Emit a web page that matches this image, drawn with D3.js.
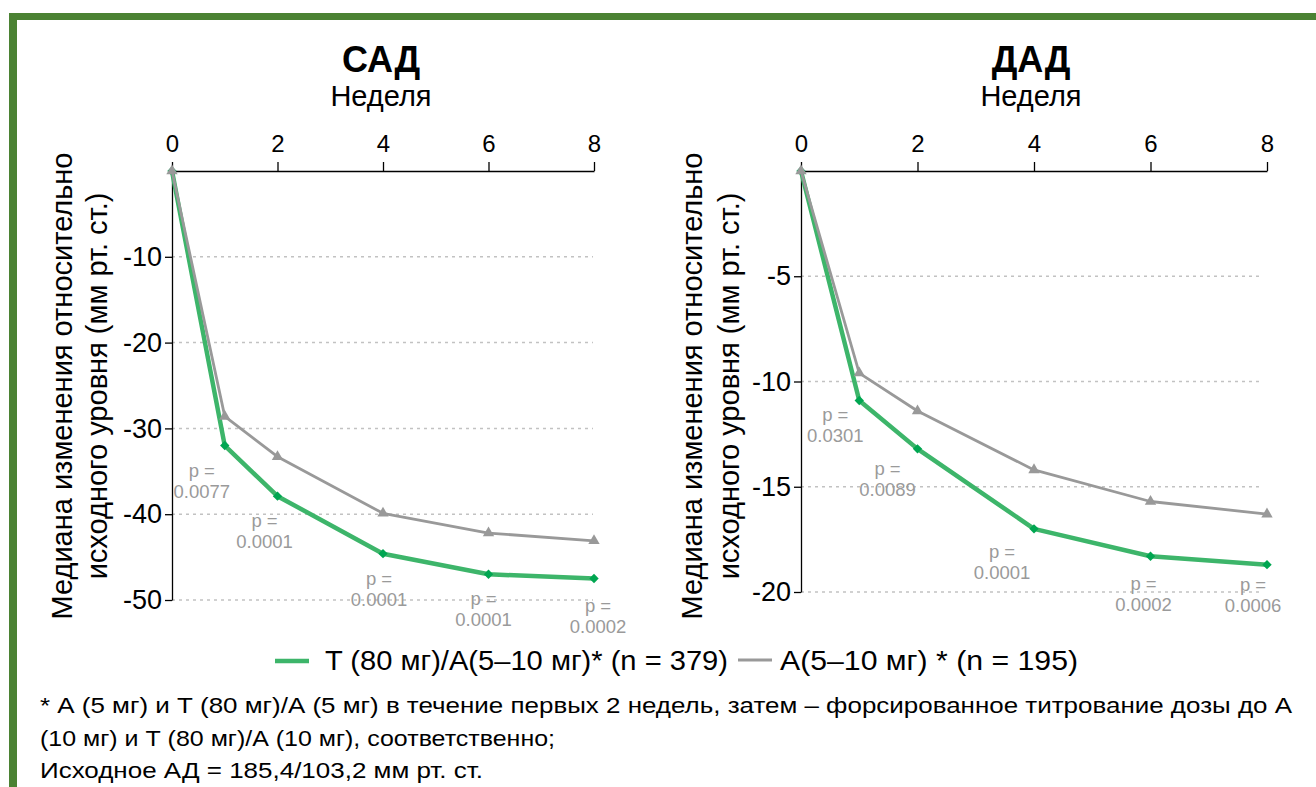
<!DOCTYPE html>
<html>
<head>
<meta charset="utf-8">
<script src="https://cdn.jsdelivr.net/npm/d3@7"></script>
<style>
  html, body { margin: 0; padding: 0; background: #ffffff; }
  svg { display: block; }
  text { font-family: "Liberation Sans", Arial, sans-serif; }
</style>
</head>
<body>
<svg id="chart" width="1316" height="787"></svg>
<script>
// ---------------- DATA ----------------
const weeks = [0, 1, 2, 4, 6, 8];
const weekTicks = [0, 2, 4, 6, 8];

const sadTA = [0, -32.0, -37.9, -44.6, -47.0, -47.5];
const sadA  = [0, -28.6, -33.3, -39.9, -42.2, -43.1];
const sadP  = ["0.0077", "0.0001", "0.0001", "0.0001", "0.0002"];
const sadYTicks = [-10, -20, -30, -40, -50];

const dadTA = [0, -10.9, -13.2, -17.0, -18.3, -18.7];
const dadA  = [0, -9.6, -11.4, -14.2, -15.7, -16.3];
const dadP  = ["0.0301", "0.0089", "0.0001", "0.0002", "0.0006"];
const dadYTicks = [-5, -10, -15, -20];

const panelTitles = ["САД", "ДАД"];
const xAxisTitle = "Неделя";
const yAxisTitle = ["Медиана изменения относительно", "исходного уровня (мм рт. ст.)"];
const legendLabels = ["T (80 мг)/А(5–10 мг)* (n = 379)", "А(5–10 мг) * (n = 195)"];
const footnote = [
  "* А (5 мг) и Т (80 мг)/А (5 мг) в течение первых 2 недель, затем – форсированное титрование дозы до А",
  "(10 мг) и Т (80 мг)/А (10 мг), соответственно;",
  "Исходное АД = 185,4/103,2 мм рт. ст."
];

// ---------------- STYLE / LAYOUT ----------------
const GREEN_LINE = "#3db56a";
const GREEN_MARK = "#00a651";
const GRAY = "#999999";
const BORDER = "#4b8233";
const FONT = "Liberation Sans, Arial, sans-serif";

const svg = d3.select("#chart");

// frame border
svg.append("rect").attr("x", 9).attr("y", 13).attr("width", 1316 - 9).attr("height", 7).attr("fill", BORDER);
svg.append("rect").attr("x", 9).attr("y", 13).attr("width", 8).attr("height", 787 - 13).attr("fill", BORDER);

const panels = [
  {
    title: panelTitles[0], ta: sadTA, a: sadA, p: sadP, yTicks: sadYTicks,
    x: d3.scaleLinear().domain([0, 8]).range([172, 594]),
    y: d3.scaleLinear().domain([0, -50]).range([171, 600]),
    gridEnd: 593, titleX: 381, ylab: [72, 107],
    pOff: [[-23, 31], [-13, 31], [-4, 31], [-5, 31], [4, 33]]
  },
  {
    title: panelTitles[1], ta: dadTA, a: dadA, p: dadP, yTicks: dadYTicks,
    x: d3.scaleLinear().domain([0, 8]).range([801, 1267]),
    y: d3.scaleLinear().domain([0, -20]).range([171, 592]),
    gridEnd: 1262, titleX: 1031, ylab: [702, 739],
    pOff: [[-24, 21], [-30, 26], [-32, 29], [-7, 34], [-14, 26]]
  }
];

panels.forEach(P => {
  const g = svg.append("g");
  const x0 = P.x.range()[0];
  const yTop = P.y.range()[0];

  // titles
  g.append("text").attr("x", P.titleX).attr("y", 72).attr("text-anchor", "middle")
    .attr("font-size", 36).attr("font-weight", "bold").attr("fill", "#000").text(P.title);
  g.append("text").attr("x", P.titleX).attr("y", 106).attr("text-anchor", "middle")
    .attr("font-size", 29).attr("fill", "#000").text(xAxisTitle);

  // y axis title (two lines)
  yAxisTitle.forEach((t, i) => {
    g.append("text")
      .attr("transform", `translate(${P.ylab[i]},386) rotate(-90)`)
      .attr("text-anchor", "middle").attr("font-size", 29).attr("fill", "#000").text(t);
  });

  // grid lines
  g.append("g").selectAll("line").data(P.yTicks).join("line")
    .attr("x1", x0).attr("x2", P.gridEnd)
    .attr("y1", d => P.y(d)).attr("y2", d => P.y(d))
    .attr("stroke", "#c2c2c2").attr("stroke-width", 1.5).attr("stroke-dasharray", "3,4");

  // x axis (top)
  const xa = g.append("g").attr("transform", `translate(0,${yTop})`)
    .call(d3.axisTop(P.x).tickValues(weekTicks).tickSize(9).tickSizeOuter(0).tickPadding(10).tickFormat(d => String(d)));
  xa.selectAll("text").attr("font-size", 24).attr("fill", "#000").attr("font-family", FONT);
  xa.selectAll("line, path").attr("stroke", "#000").attr("stroke-width", 1.3);

  // y axis
  const ya = g.append("g").attr("transform", `translate(${x0},0)`)
    .call(d3.axisLeft(P.y).tickValues(P.yTicks).tickSize(7).tickSizeOuter(0).tickPadding(3).tickFormat(d => String(d)));
  ya.selectAll("text").attr("font-size", 27).attr("fill", "#000").attr("font-family", FONT);
  ya.selectAll("line, path").attr("stroke", "#000").attr("stroke-width", 1.3);

  const line = d3.line().x((d, i) => P.x(weeks[i])).y(d => P.y(d));

  // T/A series
  g.append("path").datum(P.ta).attr("d", line).attr("fill", "none")
    .attr("stroke", GREEN_LINE).attr("stroke-width", 4.5).attr("stroke-linejoin", "round");
  g.append("g").selectAll("path").data(P.ta).join("path")
    .attr("d", d3.symbol(d3.symbolSquare, 44))
    .attr("transform", (d, i) => `translate(${P.x(weeks[i])},${P.y(d)}) rotate(45)`)
    .attr("fill", GREEN_MARK);

  // A series
  g.append("path").datum(P.a).attr("d", line).attr("fill", "none")
    .attr("stroke", GRAY).attr("stroke-width", 2.8).attr("stroke-linejoin", "round");
  g.append("g").selectAll("path").data(P.a).join("path")
    .attr("d", d3.symbol(d3.symbolTriangle, 56))
    .attr("transform", (d, i) => `translate(${P.x(weeks[i])},${P.y(d)})`)
    .attr("fill", GRAY);

  // p-value labels
  P.p.forEach((pv, i) => {
    const wx = P.x(weeks[i + 1]) + P.pOff[i][0];
    const wy = P.y(P.ta[i + 1]) + P.pOff[i][1];
    const t = g.append("text").attr("x", wx).attr("y", wy).attr("text-anchor", "middle")
      .attr("font-size", 18.5).attr("fill", "#9a9a9a");
    t.append("tspan").attr("x", wx).attr("dy", 0).text("p =");
    t.append("tspan").attr("x", wx).attr("dy", 21).text(pv);
  });
});

// legend
const lg = svg.append("g");
lg.append("line").attr("x1", 275).attr("x2", 309).attr("y1", 661).attr("y2", 661)
  .attr("stroke", GREEN_LINE).attr("stroke-width", 4.5);
lg.append("text").attr("x", 325).attr("y", 670).attr("font-size", 27).attr("fill", "#000")
  .attr("textLength", 403).attr("lengthAdjust", "spacingAndGlyphs").text(legendLabels[0]);
lg.append("line").attr("x1", 738).attr("x2", 772).attr("y1", 660).attr("y2", 660)
  .attr("stroke", GRAY).attr("stroke-width", 2.8);
lg.append("text").attr("x", 780).attr("y", 670).attr("font-size", 27).attr("fill", "#000")
  .attr("textLength", 298).attr("lengthAdjust", "spacingAndGlyphs").text(legendLabels[1]);

// footnote
const footWidths = [1252, 515, 443];
footnote.forEach((t, i) => {
  svg.append("text").attr("x", 40).attr("y", 713 + i * 32.5).attr("font-size", 22.5).attr("fill", "#000")
    .attr("textLength", footWidths[i]).attr("lengthAdjust", "spacingAndGlyphs").text(t);
});
</script>
</body>
</html>
